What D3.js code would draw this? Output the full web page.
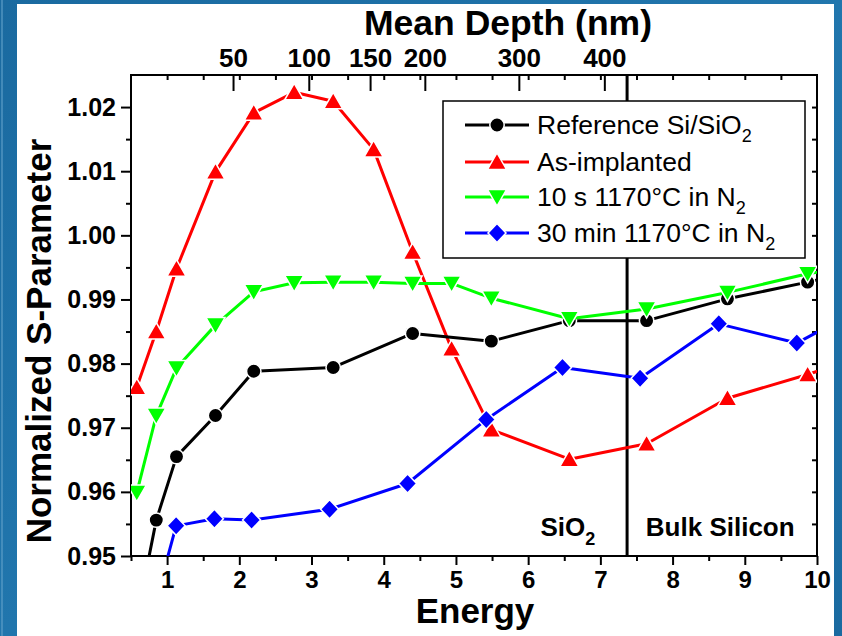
<!DOCTYPE html>
<html><head><meta charset="utf-8">
<script src="https://cdn.jsdelivr.net/npm/d3@7"></script>
<style>
html,body{margin:0;padding:0;background:#1b6ea3;}
svg{display:block;}
text{font-family:"Liberation Sans",Arial,Helvetica,sans-serif;}
</style></head>
<body>
<svg id="chart" width="842" height="636"></svg>
<script>
// ---- data ----
const energyRef = [0.58, 0.85, 1.13, 1.67, 2.2, 3.3, 4.4, 5.49, 6.57, 7.64, 8.76, 9.87, 11];
const valuesRef = [0.9403, 0.9556, 0.9655, 0.9719, 0.9788, 0.9794, 0.9847, 0.9835, 0.9867, 0.9867, 0.9901, 0.9927, 0.9955];

const energyAsImpl = [0.58, 0.85, 1.13, 1.67, 2.2, 2.76, 3.3, 3.86, 4.4, 4.94, 5.49, 6.57, 7.64, 8.76, 9.87, 11];
const valuesAsImpl = [0.9763, 0.9850, 0.9948, 1.0099, 1.0191, 1.0223, 1.0209, 1.0134, 0.9974, 0.9823, 0.9697, 0.9651, 0.9675, 0.9746, 0.9783, 0.9825];

const energy10s = [0.58, 0.85, 1.13, 1.67, 2.2, 2.76, 3.3, 3.86, 4.4, 4.94, 5.49, 6.57, 7.64, 8.76, 9.87, 11];
const values10s = [0.9599, 0.9719, 0.9793, 0.9860, 0.9912, 0.9926, 0.9927, 0.9927, 0.9925, 0.9925, 0.9902, 0.9870, 0.9885, 0.9911, 0.9940, 0.9960];

const energy30m = [0.85, 1.125, 1.655, 2.17, 3.25, 4.33, 5.42, 6.475, 7.55, 8.64, 9.72, 10.8];
const values30m = [0.9433, 0.9547, 0.9558, 0.9556, 0.9573, 0.9613, 0.9713, 0.9794, 0.9777, 0.9862, 0.9832, 0.9897];

const seriesNames = ["Reference Si/SiO", "As-implanted", "10 s 1170°C in N", "30 min 1170°C in N"];
const seriesSubs = ["2", "", "2", "2"];
const seriesColors = ["#000000", "#ff0000", "#00ff00", "#0000ff"];
const seriesMarkers = ["circle", "triUp", "triDown", "diamond"];

const xTickValues = [1, 2, 3, 4, 5, 6, 7, 8, 9, 10];
const xMinorValues = [0.5, 1.5, 2.5, 3.5, 4.5, 5.5, 6.5, 7.5, 8.5, 9.5];
const yTickValues = [0.95, 0.96, 0.97, 0.98, 0.99, 1.00, 1.01, 1.02];
const yMinorValues = [0.955, 0.965, 0.975, 0.985, 0.995, 1.005, 1.015];
const yRightValues = [0.955, 0.96, 0.965, 0.97, 0.975, 0.98, 0.985, 0.99, 0.995, 1.00, 1.005, 1.01, 1.015, 1.02];
const depthLabels = ["50", "100", "150", "200", "300", "400"];
const depthEnergies = [1.913, 2.962, 3.811, 4.569, 5.871, 7.055];
const topMinorValues = [1, 1.5, 2, 2.5, 3, 3.5, 4, 4.5, 5, 5.5, 6, 6.5, 7, 7.5, 8, 8.5, 9, 9.5];
const boundaryEnergy = [7.37];
const regionLabels = ["SiO", "Bulk Silicon"];
const regionSubs = ["2", ""];
const regionEnergies = [6.55, 8.66];
const regionLevel = [0.9531, 0.9531];

// ---- layout ----
const W = 842, H = 636;
const L = 131, R = 817, T = 75, B = 556;

const svg = d3.select("#chart");
const defs = svg.append("defs");
const grad = defs.append("linearGradient").attr("id", "bg").attr("x1", 0).attr("y1", 0).attr("x2", 1).attr("y2", 1);
grad.append("stop").attr("offset", "0%").attr("stop-color", "#1a6aa0");
grad.append("stop").attr("offset", "50%").attr("stop-color", "#2176ad");
grad.append("stop").attr("offset", "100%").attr("stop-color", "#1a6aa0");
svg.append("rect").attr("width", W).attr("height", H).attr("fill", "url(#bg)");
svg.append("rect").attr("x", 1).attr("y", 0).attr("width", 2).attr("height", H).attr("fill", "#5d9fc8").attr("opacity", 0.6);
svg.append("rect").attr("x", 17).attr("y", 4).attr("width", 817).attr("height", H - 4).attr("fill", "#ffffff");

defs.append("clipPath").attr("id", "plotclip").append("rect")
  .attr("x", L).attr("y", T).attr("width", R - L).attr("height", B - T);

const x = d3.scaleLinear().domain([0.5, 10]).range([L, R]);
const y = d3.scaleLinear().domain([0.95, 1.025]).range([B, T]);

function styleAxis(g, fs) {
  g.select(".domain").remove();
  g.selectAll(".tick line").attr("stroke", "#000").attr("stroke-width", 2);
  g.selectAll(".tick text").attr("fill", "#000").attr("font-size", fs).attr("font-weight", "bold")
    .style("font-family", "'Liberation Sans',Arial,sans-serif");
}

// bottom axis
svg.append("g").attr("transform", `translate(0,${B})`)
  .call(d3.axisBottom(x).tickValues(xTickValues).tickSizeInner(9).tickSizeOuter(0).tickPadding(6).tickFormat(d3.format("d")))
  .call(g => styleAxis(g, 24));
svg.append("g").attr("transform", `translate(0,${B})`)
  .call(d3.axisBottom(x).tickValues(xMinorValues).tickSizeInner(5).tickSizeOuter(0).tickFormat(""))
  .call(g => styleAxis(g, 24));

// left axis
svg.append("g").attr("transform", `translate(${L},0)`)
  .call(d3.axisLeft(y).tickValues(yTickValues).tickSizeInner(10).tickSizeOuter(0).tickPadding(5).tickFormat(d3.format(".2f")))
  .call(g => styleAxis(g, 25));
svg.append("g").attr("transform", `translate(${L},0)`)
  .call(d3.axisLeft(y).tickValues(yMinorValues).tickSizeInner(5).tickSizeOuter(0).tickFormat(""))
  .call(g => styleAxis(g, 25));

// right axis (inward ticks)
svg.append("g").attr("transform", `translate(${R},0)`)
  .call(d3.axisLeft(y).tickValues(yRightValues).tickSizeInner(5).tickSizeOuter(0).tickFormat(""))
  .call(g => styleAxis(g, 25));

// top axis (mean depth), ticks pointing inward
svg.append("g").attr("transform", `translate(0,${T})`)
  .call(d3.axisTop(x).tickValues(depthEnergies).tickSizeInner(-16).tickSizeOuter(0).tickPadding(8)
    .tickFormat((d, i) => depthLabels[i]))
  .call(g => styleAxis(g, 26));
svg.append("g").attr("transform", `translate(0,${T})`)
  .call(d3.axisTop(x).tickValues(topMinorValues).tickSizeInner(-5).tickSizeOuter(0).tickFormat(""))
  .call(g => styleAxis(g, 26));

// frame
svg.append("rect").attr("x", L).attr("y", T).attr("width", R - L).attr("height", B - T)
  .attr("fill", "none").attr("stroke", "#000").attr("stroke-width", 2);

// boundary line SiO2 / bulk
svg.append("g").selectAll("line").data(boundaryEnergy).join("line")
  .attr("x1", d => x(d)).attr("x2", d => x(d)).attr("y1", T).attr("y2", B)
  .attr("stroke", "#000").attr("stroke-width", 3);

// region labels
const reg = svg.append("g");
regionLabels.forEach((lab, i) => {
  const t = reg.append("text").attr("x", x(regionEnergies[i])).attr("y", y(regionLevel[i]))
    .attr("text-anchor", "middle").attr("font-size", 26).attr("font-weight", "bold").attr("fill", "#000");
  t.append("tspan").text(lab);
  if (regionSubs[i]) t.append("tspan").attr("font-size", 18).attr("dy", 9).text(regionSubs[i]);
});

// marker symbols
function markerPath(type) {
  if (type === "circle") return d3.symbol(d3.symbolCircle, Math.PI * 7.2 * 7.2)();
  if (type === "triUp") return "M0,-9L9.5,7.5L-9.5,7.5Z";
  if (type === "triDown") return "M0,9L9.5,-7.5L-9.5,-7.5Z";
  if (type === "diamond") return "M0,-9.5L9,0L0,9.5L-9,0Z";
}

const seriesData = [
  d3.zip(energyRef, valuesRef),
  d3.zip(energyAsImpl, valuesAsImpl),
  d3.zip(energy10s, values10s),
  d3.zip(energy30m, values30m)
];

const plot = svg.append("g").attr("clip-path", "url(#plotclip)");
const line = d3.line().x(d => x(d[0])).y(d => y(d[1]));
// draw order: as-implanted, 30min, reference, 10s (green on top near overlap)
const order = [1, 3, 0, 2];
order.forEach(si => {
  const g = plot.append("g");
  g.append("path").datum(seriesData[si]).attr("d", line)
    .attr("fill", "none").attr("stroke", seriesColors[si]).attr("stroke-width", 3).attr("stroke-linejoin", "round");
  g.selectAll("path.m").data(seriesData[si]).join("path").attr("class", "m")
    .attr("transform", d => `translate(${x(d[0])},${y(d[1])})`)
    .attr("d", markerPath(seriesMarkers[si]))
    .attr("fill", seriesColors[si]).attr("stroke", "#fff").attr("stroke-width", 1.5);
});

// legend
const lg = svg.append("g");
lg.append("rect").attr("x", 443).attr("y", 101).attr("width", 362).attr("height", 157)
  .attr("fill", "#fff").attr("stroke", "#000").attr("stroke-width", 1.5);
const rowY = [125, 162, 197, 233];
seriesNames.forEach((name, i) => {
  const cy = rowY[i];
  lg.append("line").attr("x1", 465).attr("x2", 529).attr("y1", cy).attr("y2", cy)
    .attr("stroke", seriesColors[i]).attr("stroke-width", 3);
  lg.append("path").attr("transform", `translate(497,${cy})`).attr("d", markerPath(seriesMarkers[i]))
    .attr("fill", seriesColors[i]).attr("stroke", "#fff").attr("stroke-width", 1.5);
  const t = lg.append("text").attr("x", 537).attr("y", cy + 9).attr("font-size", 26.5).attr("fill", "#000");
  t.append("tspan").text(name);
  if (seriesSubs[i]) t.append("tspan").attr("font-size", 18).attr("dy", 8).text(seriesSubs[i]);
});

// axis titles
svg.append("text").attr("x", 475).attr("y", 623).attr("text-anchor", "middle")
  .attr("font-size", 35).attr("font-weight", "bold").text("Energy");
svg.append("text").attr("x", 508).attr("y", 35).attr("text-anchor", "middle")
  .attr("font-size", 35.5).attr("font-weight", "bold").text("Mean Depth (nm)");
svg.append("text").attr("transform", "translate(51,341) rotate(-90)").attr("text-anchor", "middle")
  .attr("font-size", 35).attr("font-weight", "bold").text("Normalized S-Parameter");
</script>
</body></html>
